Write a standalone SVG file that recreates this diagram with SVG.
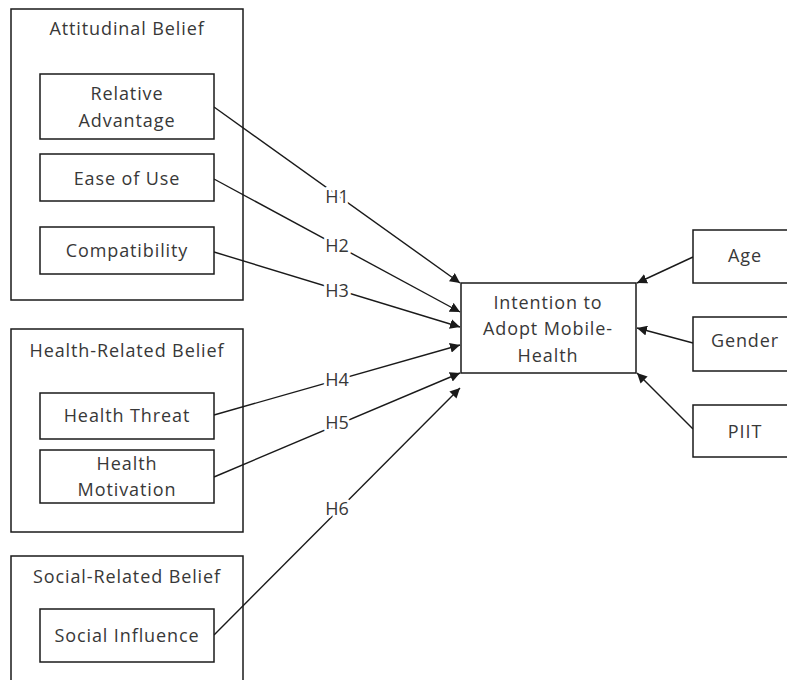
<svg xmlns="http://www.w3.org/2000/svg" width="787" height="680" viewBox="0 0 787 680">
  <style>
    .box { fill: #ffffff; stroke: #1a1a1a; stroke-width: 1.5; }
    .grp { fill: none; stroke: #1a1a1a; stroke-width: 1.5; }
    text { font-family: "Open Sans", "Liberation Sans", sans-serif; font-size: 18px; letter-spacing: 0.9px; fill: #383838; text-anchor: middle; dominant-baseline: central; }
    .edge { fill: none; stroke: #1a1a1a; stroke-width: 1.4; marker-end: url(#arrow); }
    .lbl { paint-order: stroke; stroke: #ffffff; stroke-width: 6px; stroke-linejoin: round; letter-spacing: 0; }
  </style>
  <defs>
    <marker id="arrow" viewBox="0 0 10 10" refX="10" refY="5" markerWidth="10" markerHeight="10" markerUnits="userSpaceOnUse" orient="auto">
      <path d="M0,0 L10,5 L0,10 z" fill="#1a1a1a"/>
    </marker>
  </defs>
  <rect width="787" height="680" fill="#ffffff"/>

  <!-- belief groups -->
  <g id="attitudinal-belief">
    <rect class="grp" x="11" y="9" width="232" height="291"/>
    <text x="127" y="28">Attitudinal Belief</text>
  </g>
  <g id="health-related-belief">
    <rect class="grp" x="11" y="329" width="232" height="203"/>
    <text x="127" y="350">Health-Related Belief</text>
  </g>
  <g id="social-related-belief">
    <rect class="grp" x="11" y="556" width="232" height="140"/>
    <text x="127" y="576">Social-Related Belief</text>
  </g>

  <!-- connectors -->
  <g id="connectors">
    <line class="edge" x1="214" y1="107" x2="460" y2="283"/>
    <line class="edge" x1="214" y1="179" x2="460" y2="312"/>
    <line class="edge" x1="214" y1="252" x2="460" y2="327"/>
    <line class="edge" x1="214" y1="415" x2="460" y2="345"/>
    <line class="edge" x1="214" y1="477" x2="460" y2="373"/>
    <line class="edge" x1="214" y1="635" x2="460" y2="388"/>
    <line class="edge" x1="693" y1="257" x2="637" y2="283"/>
    <line class="edge" x1="693" y1="343" x2="637" y2="328"/>
    <line class="edge" x1="693" y1="429" x2="637" y2="373"/>
    <text class="lbl" x="337" y="196">H1</text>
    <text class="lbl" x="337" y="245">H2</text>
    <text class="lbl" x="337" y="290">H3</text>
    <text class="lbl" x="337" y="379">H4</text>
    <text class="lbl" x="337" y="422">H5</text>
    <text class="lbl" x="337" y="508">H6</text>
  </g>

  <!-- constructs -->
  <g id="relative-advantage">
    <rect class="box" x="40" y="74" width="174" height="65"/>
    <text x="127" y="93">Relative</text>
    <text x="127" y="120">Advantage</text>
  </g>
  <g id="ease-of-use">
    <rect class="box" x="40" y="154" width="174" height="47"/>
    <text x="127" y="178">Ease of Use</text>
  </g>
  <g id="compatibility">
    <rect class="box" x="40" y="227" width="174" height="47"/>
    <text x="127" y="250">Compatibility</text>
  </g>
  <g id="health-threat">
    <rect class="box" x="40" y="393" width="174" height="46"/>
    <text x="127" y="415">Health Threat</text>
  </g>
  <g id="health-motivation">
    <rect class="box" x="40" y="450" width="174" height="53"/>
    <text x="127" y="463">Health</text>
    <text x="127" y="489">Motivation</text>
  </g>
  <g id="social-influence">
    <rect class="box" x="40" y="609" width="174" height="53"/>
    <text x="127" y="635">Social Influence</text>
  </g>

  <!-- outcome -->
  <g id="intention">
    <rect class="box" x="461" y="283" width="175" height="90"/>
    <text x="548" y="302">Intention to</text>
    <text x="548" y="328">Adopt Mobile-</text>
    <text x="548" y="355">Health</text>
  </g>

  <!-- controls -->
  <g id="age">
    <rect class="box" x="693" y="230" width="110" height="53"/>
    <text x="745" y="255">Age</text>
  </g>
  <g id="gender">
    <rect class="box" x="693" y="317" width="110" height="54"/>
    <text x="745" y="340">Gender</text>
  </g>
  <g id="piit">
    <rect class="box" x="693" y="405" width="110" height="52"/>
    <text x="745" y="431">PIIT</text>
  </g>
</svg>
